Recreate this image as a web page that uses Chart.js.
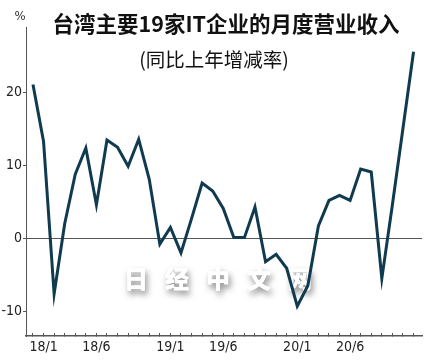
<!DOCTYPE html>
<html><head><meta charset="utf-8">
<script src="https://cdn.jsdelivr.net/npm/chart.js@4.4.0/dist/chart.umd.min.js"></script>
<style>html,body{margin:0;padding:0;background:#fff;}canvas{display:block;}</style>
</head><body>
<canvas id="c" width="430" height="360"></canvas>
<script>
// ---- data ----
const months = ['17/12',
  '18/1','18/2','18/3','18/4','18/5','18/6','18/7','18/8','18/9','18/10','18/11','18/12',
  '19/1','19/2','19/3','19/4','19/5','19/6','19/7','19/8','19/9','19/10','19/11','19/12',
  '20/1','20/2','20/3','20/4','20/5','20/6','20/7','20/8','20/9','20/10','20/11','20/12'];
const values = [21.1,
  13.3,-7.6,2.0,8.8,12.4,4.6,13.5,12.5,9.9,13.6,8.1,-0.8,
  1.5,-2.0,2.7,7.6,6.5,4.1,0.1,0.1,4.3,-3.2,-2.2,-4.1,
  -9.3,-6.5,1.7,5.2,5.9,5.2,9.5,9.1,-5.5,4.6,15.1,25.6];
const labeledMonths = ['18/1','18/6','19/1','19/6','20/1','20/6'];
const yTicks = [-10, 0, 10, 20];
const titleText = '台湾主要19家IT企业的月度营业收入';
const subtitleText = '(同比上年增减率)';
const unitText = '%';
const watermarkText = '日经中文网';

const NUM_FONT = "'Liberation Sans Narrow','DejaVu Sans Condensed',sans-serif";
const CJK_FONT = "'Noto Sans CJK SC',sans-serif";
const LINE_COLOR = '#103a50';
const AXIS_COLOR = '#555';

const textPlugin = {
  id: 'texts',
  beforeDatasetsDraw(chart) {
    const ctx = chart.ctx;
    ctx.save();
    ctx.font = `900 24px ${CJK_FONT}`;
    ctx.letterSpacing = '17px';
    ctx.fillStyle = '#ffffff';
    ctx.shadowColor = 'rgba(0,0,0,0.5)';
    ctx.shadowBlur = 6;
    ctx.shadowOffsetX = 2;
    ctx.shadowOffsetY = 4;
    ctx.textAlign = 'left';
    ctx.textBaseline = 'middle';
    ctx.fillText(watermarkText, 124, 279);
    ctx.shadowColor = 'rgba(0,0,0,0)';
    ctx.fillText(watermarkText, 124, 279);
    ctx.restore();
  },
  afterDraw(chart) {
    const ctx = chart.ctx;
    ctx.save();
    ctx.fillStyle = '#111';
    ctx.textAlign = 'center';
    ctx.textBaseline = 'middle';
    ctx.font = `700 21.5px ${CJK_FONT}`;
    ctx.fillText(titleText, 226, 24);
    ctx.font = `400 19.5px ${CJK_FONT}`;
    ctx.fillText(subtitleText, 214, 60);
    ctx.fillStyle = '#333';
    ctx.font = `13px ${NUM_FONT}`;
    ctx.fillText(unitText, 20, 17);
    ctx.restore();
  }
};

new Chart(document.getElementById('c'), {
  type: 'line',
  data: {
    datasets: [{
      data: values.map((v, i) => ({ x: i, y: v })),
      borderColor: LINE_COLOR,
      borderWidth: 3,
      pointRadius: 0,
      tension: 0,
      fill: false
    }]
  },
  options: {
    responsive: false,
    animation: false,
    devicePixelRatio: 1,
    layout: { padding: { top: 27, right: 8, left: 0, bottom: 0 } },
    plugins: { legend: { display: false }, tooltip: { enabled: false }, title: { display: false } },
    scales: {
      x: {
        type: 'linear',
        min: -0.66,
        max: 36.8,
        afterBuildTicks: s => { s.ticks = months.map((m, i) => ({ value: i })); },
        afterFit: s => { s.height = 24; },
        ticks: {
          autoSkip: false, maxRotation: 0, minRotation: 0, padding: 6,
          color: '#222', font: { family: NUM_FONT, size: 14 },
          callback: v => labeledMonths.includes(months[v]) ? months[v] : ''
        },
        grid: { drawOnChartArea: false, drawTicks: true, tickLength: -3, tickColor: AXIS_COLOR, tickWidth: 1 },
        border: { color: AXIS_COLOR, width: 1.5 }
      },
      y: {
        min: -13.4,
        max: 29.0,
        afterBuildTicks: s => { s.ticks = yTicks.map(v => ({ value: v })); },
        afterFit: s => { s.width = 26; },
        ticks: { padding: 1, color: '#222', font: { family: NUM_FONT, size: 14 } },
        grid: {
          drawOnChartArea: true,
          color: c => (c.tick && c.tick.value === 0) ? AXIS_COLOR : 'rgba(0,0,0,0)',
          lineWidth: 1, tickLength: 3, tickColor: AXIS_COLOR
        },
        border: { color: AXIS_COLOR, width: 1 }
      }
    }
  },
  plugins: [textPlugin]
});
</script>
</body></html>
